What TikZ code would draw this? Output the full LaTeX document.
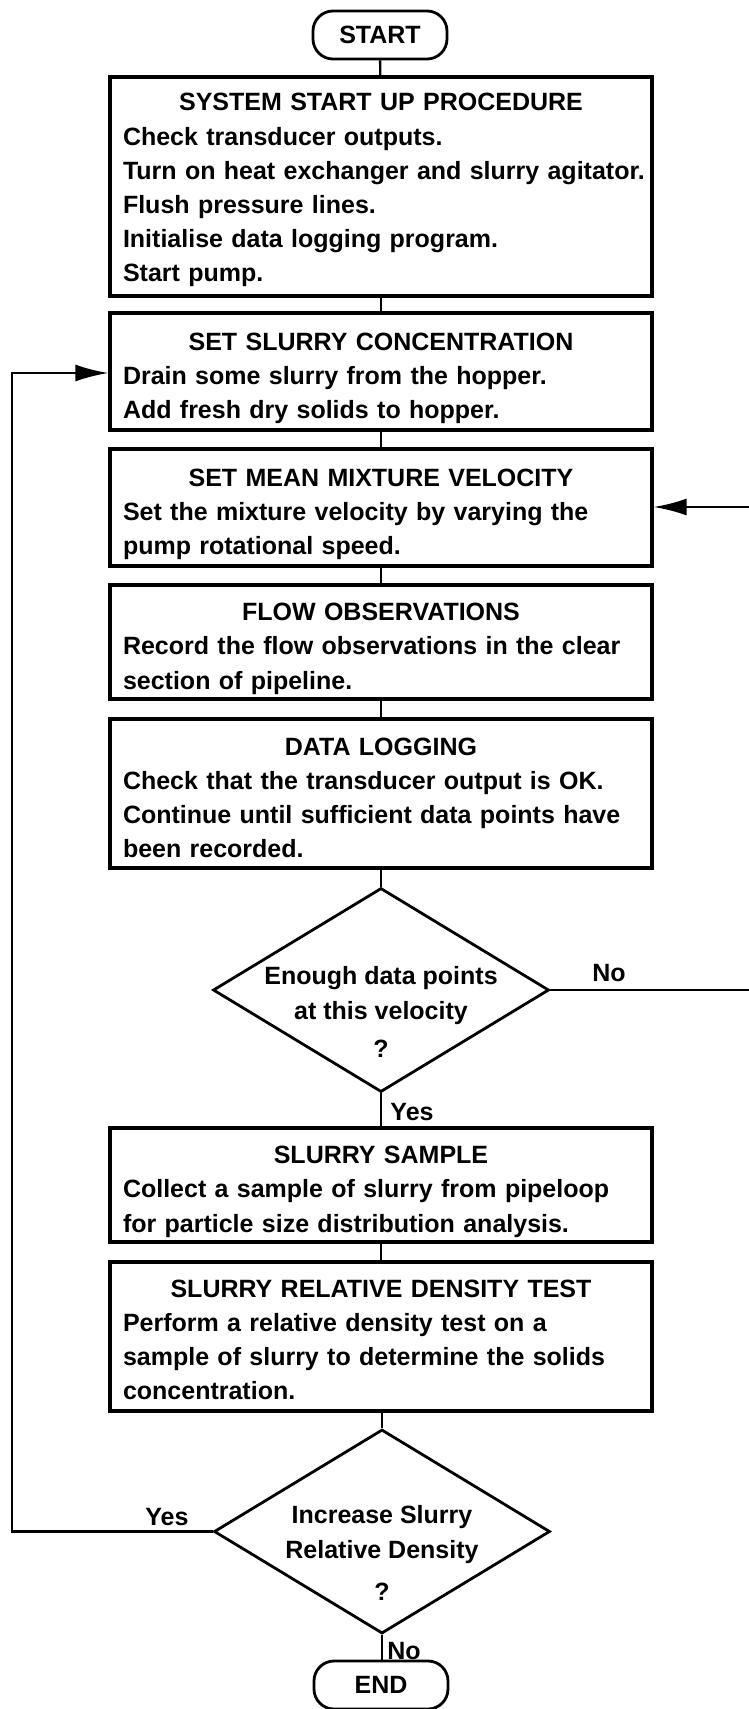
\documentclass[tikz,border=0pt]{standalone}
\usepackage{fontspec}
\setmainfont{Liberation Sans}
\usetikzlibrary{shapes.geometric,arrows.meta}
\setlength{\parindent}{0pt}
\hyphenpenalty=10000
\exhyphenpenalty=10000
\newcommand{\boxtitle}[2][31pt]{\makebox[516pt][c]{\rule{0pt}{#1}#2}\\}
\begin{document}
\begin{tikzpicture}[x=1pt,y=-1pt,
  font=\fontsize{25}{34.2}\selectfont\bfseries,
  stepbox/.style={draw, line width=3.2pt, minimum width=542pt, text width=516pt,
    align=left, inner xsep=13pt, inner ysep=0pt},
  term/.style={draw, line width=2.8pt, rounded corners=20pt, minimum width=134pt,
    minimum height=48pt, inner sep=0pt},
  dia/.style={draw, diamond, line width=2.8pt, minimum width=336pt,
    minimum height=204pt, inner sep=0pt},
  dtext/.style={align=center, inner sep=0pt},
  lbl/.style={inner sep=0pt},
  conn/.style={line width=2.4pt},
  arr/.style={conn, -{Latex[length=33pt,width=17pt]}}]
\useasboundingbox (0,0) rectangle (749,1709);

\node[term] (start) at (380,35) {START};

\node[stepbox, minimum height=219pt] (b1) at (381,186.5)
  {\boxtitle[25pt]{SYSTEM START UP PROCEDURE}Check transducer outputs.\\
   \mbox{Turn on heat exchanger and slurry agitator.}\\
   Flush pressure lines.\\
   Initialise data logging program.\\
   Start pump.};

\node[stepbox, minimum height=117pt] (b2) at (381,371.5)
  {\boxtitle{SET SLURRY CONCENTRATION}Drain some slurry from the hopper.\\
   Add fresh dry solids to hopper.};

\node[stepbox, minimum height=117pt] (b3) at (381,507.5)
  {\boxtitle{SET MEAN MIXTURE VELOCITY}Set the mixture velocity by varying the\\
   pump rotational speed.};

\node[stepbox, minimum height=114pt] (b4) at (381,642)
  {\boxtitle{FLOW OBSERVATIONS}\mbox{Record the flow observations in the clear}\\
   section of pipeline.};

\node[stepbox, minimum height=149pt] (b5) at (381,793.5)
  {\boxtitle[26pt]{DATA LOGGING}Check that the transducer output is OK.\\
   \mbox{Continue until sufficient data points have}\\
   been recorded.};

\node[dia] (d1) at (381,990) {};
\node[dtext] (d1t) at (381,1012) {Enough data points\\at this velocity\\[4pt]?};

\node[stepbox, minimum height=114pt] (b6) at (381,1185)
  {\boxtitle{SLURRY SAMPLE}\mbox{Collect a sample of slurry from pipeloop}\\
   for particle size distribution analysis.};

\node[stepbox, minimum height=149pt] (b7) at (381,1336.5)
  {\boxtitle[24pt]{SLURRY RELATIVE DENSITY TEST}Perform a relative density test on a\\
   \mbox{sample of slurry to determine the solids}\\
   concentration.};

\node[dia] (d2) at (382,1531.5) {};
\node[dtext] (d2t) at (382,1553) {Increase Slurry\\Relative Density\\[8pt]?};

\node[term] (end) at (381,1685) {END};

% labels
\node[lbl] (no1) at (609,973) {No};
\node[lbl] (yes1) at (412,1112) {Yes};
\node[lbl] (yes2) at (167,1517) {Yes};
\node[lbl] (no2) at (404,1651) {No};

% connectors
\draw[conn] (start) -- (b1);
\draw[conn] (b1) -- (b2);
\draw[conn] (b2) -- (b3);
\draw[conn] (b3) -- (b4);
\draw[conn] (b4) -- (b5);
\draw[conn] (b5.south) -- (d1.north);
\draw[conn] (d1.south) -- (b6.north -| d1.south);
\draw[conn] (b6) -- (b7);
\draw[conn] (b7.south -| d2.north) -- (d2.north);
\draw[conn] (d2.south) -- (end.north -| d2.south);

\coordinate (rt) at (752,507);
\draw[arr] (d1.east) -| (rt) -- (b3.east |- rt);

\coordinate (lf) at (12,373);
\draw[arr] (d2.west) -| (lf) -- (b2.west |- lf);
\end{tikzpicture}
\end{document}
